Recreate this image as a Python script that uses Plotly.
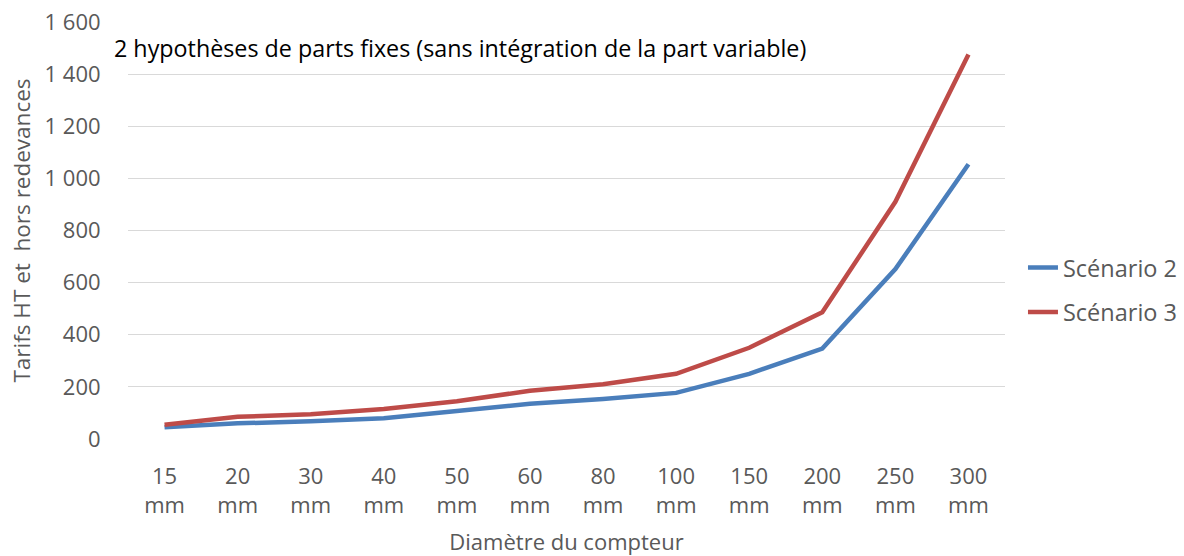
import plotly.graph_objects as go

categories = ["15<br>mm", "20<br>mm", "30<br>mm", "40<br>mm", "50<br>mm", "60<br>mm",
              "80<br>mm", "100<br>mm", "150<br>mm", "200<br>mm", "250<br>mm", "300<br>mm"]
scenario2 = [45, 60, 68, 80, 107, 135, 153, 177, 250, 347, 652, 1054]
scenario3 = [55, 85, 95, 115, 145, 185, 210, 250, 350, 486, 910, 1475]
y_ticks = [0, 200, 400, 600, 800, 1000, 1200, 1400, 1600]

FONT = "Open Sans"
GREY = "#595959"

fig = go.Figure()
fig.add_trace(go.Scatter(x=categories, y=scenario2, mode="lines", name="Scénario 2",
                         legendgroup="a", line=dict(color="#4A7EBB", width=4.5)))
fig.add_trace(go.Scatter(x=categories, y=scenario3, mode="lines", name="Scénario 3",
                         legendgroup="b", line=dict(color="#BE4B48", width=4.5)))

fig.update_layout(
    width=1184, height=556,
    margin=dict(l=128, r=179, t=22, b=117, autoexpand=False),
    paper_bgcolor="white", plot_bgcolor="white",
    separators=", ",
    font=dict(family=FONT, size=22, color=GREY),
    showlegend=True,
    legend=dict(x=1.0205, y=0.357, xanchor="left", yanchor="middle",
                font=dict(size=23.5, color=GREY), traceorder="grouped", tracegroupgap=11,
                itemwidth=30),
    xaxis=dict(type="category", showgrid=False, zeroline=False, showline=False,
               automargin=False,
               ticks="outside", ticklen=18, tickcolor="white",
               tickfont=dict(size=22, color=GREY),
               title=dict(text="Diamètre du compteur", font=dict(size=22, color=GREY), standoff=20),
               range=[-0.5, 11.5]),
    yaxis=dict(range=[0, 1600], tickvals=y_ticks, showgrid=True, gridcolor="#D9D9D9",
               automargin=False, ticklabeloverflow="allow",
               gridwidth=1, zeroline=False, showline=False,
               ticks="outside", ticklen=22, tickcolor="white",
               tickfont=dict(size=22, color=GREY), tickformat=",d",
               title=dict(text="Tarifs HT et  hors redevances", font=dict(size=22.5, color=GREY), standoff=7)),
    annotations=[dict(text="2 hypothèses de parts fixes (sans intégration de la part variable)",
                      xref="paper", yref="paper", x=(112 - 128) / 877, y=(439 - 48) / 417,
                      xanchor="left", yanchor="middle", showarrow=False,
                      font=dict(family=FONT, size=23.3, color="black"))],
)

fig.write_html("out.html",
               config={"displayModeBar": False},
               post_script="document.body.style.margin='0';document.body.style.overflow='hidden';")
